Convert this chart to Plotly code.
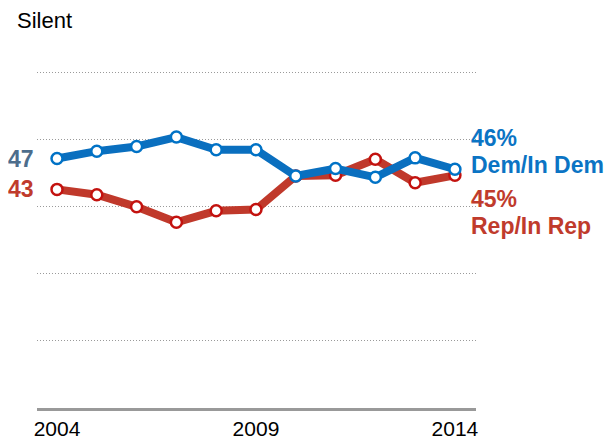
import plotly.graph_objects as go

years = [2004, 2005, 2006, 2007, 2008, 2009, 2010, 2011, 2012, 2013, 2014]
dem = [47.2, 48.3, 49.0, 50.4, 48.5, 48.5, 44.6, 45.7, 44.4, 47.3, 45.6]
rep = [42.6, 41.8, 40.0, 37.7, 39.4, 39.6, 44.6, 44.7, 47.1, 43.6, 44.7]
tick_years = [2004, 2009, 2014]
grid_vals = [20, 30, 40, 50, 60]
dem_name = "Dem/In Dem"
rep_name = "Rep/In Rep"

BLUE = "#0a6fbf"
BLUE_MK = "#0072c6"
BLUE_TXT = "#0b74c4"
RED = "#c0392b"
RED_MK = "#c3120f"
RED_TXT = "#c03b2c"
SLATE = "#4d6d8c"
FONT = "Liberation Sans, Arial, sans-serif"

fig = go.Figure()
fig.add_trace(go.Scatter(
    x=years, y=rep, mode="lines+markers",
    line=dict(color=RED, width=8),
    marker=dict(size=11, color="white", line=dict(color=RED_MK, width=2.5)),
    hoverinfo="skip"))
fig.add_trace(go.Scatter(
    x=years, y=dem, mode="lines+markers",
    line=dict(color=BLUE, width=8),
    marker=dict(size=11, color="white", line=dict(color=BLUE_MK, width=2.5)),
    hoverinfo="skip"))


def label(x, y, text, color, xanchor, xshift, yshift, xref="x"):
    return dict(xref=xref, yref="y", x=x, y=y, text="<b>%s</b>" % text,
                xanchor=xanchor, yanchor="middle", align="left", showarrow=False,
                xshift=xshift, yshift=yshift,
                font=dict(family=FONT, size=23, color=color))


ann = [
    label(0, dem[0], "%d" % round(dem[0]), SLATE, "right", -1, 0, xref="paper"),
    label(0, rep[0], "%d" % round(rep[0]), RED_TXT, "right", -1, 0, xref="paper"),
    label(years[-1], dem[-1], "%d%%" % round(dem[-1]), BLUE_TXT, "left", 14, 31),
    label(years[-1], dem[-1], dem_name, BLUE_TXT, "left", 14, 4),
    label(years[-1], rep[-1], "%d%%" % round(rep[-1]), RED_TXT, "left", 14, -24),
    label(years[-1], rep[-1], rep_name, RED_TXT, "left", 14, -51),
]

fig.update_layout(
    width=613, height=445,
    margin=dict(l=29, r=145, t=58, b=45),
    paper_bgcolor="white", plot_bgcolor="white",
    showlegend=False,
    title=dict(text="Silent", xref="container", x=9 / 613, xanchor="left",
               yref="container", y=1 - 12 / 445, yanchor="middle",
               font=dict(family=FONT, size=22, color="black")),
    annotations=ann,
    xaxis=dict(range=[2003.497, 2014.53], tickvals=tick_years, ticktext=[str(t) for t in tick_years],
               showgrid=False, zeroline=False, showline=True, linecolor="#999999", linewidth=2.5,
               ticks="", tickfont=dict(family=FONT, size=21, color="black"), fixedrange=True),
    yaxis=dict(range=[10, 61], tickvals=grid_vals, showticklabels=False,
               showgrid=True, gridcolor="#9a9a9a", gridwidth=1, griddash="1px,2px",
               zeroline=False, showline=False, fixedrange=True),
)
fig.write_html("out.html")
